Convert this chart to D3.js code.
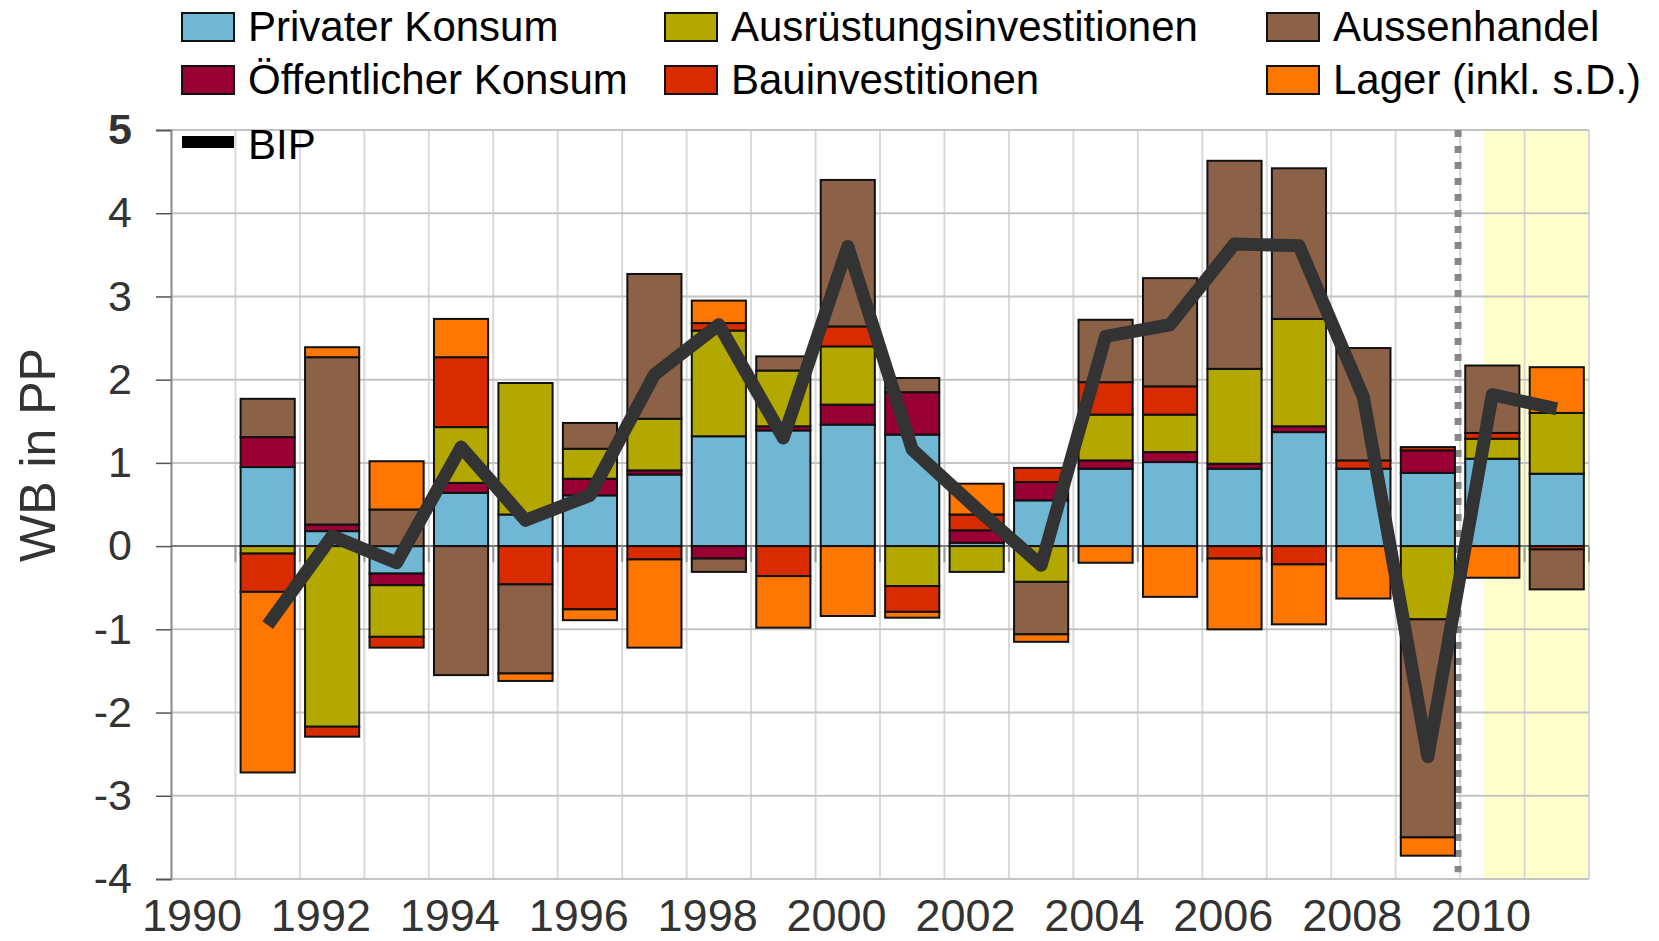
<!DOCTYPE html>
<meta charset="utf-8">
<style>
  body { margin: 0; background: #fff; }
  svg { font-family: "Liberation Sans", Arial, sans-serif; }
</style>
<svg width="1659" height="941"></svg>
<script src="https://d3js.org/d3.v7.min.js"></script>
<script>

// years 1991..2011, contributions to GDP growth (WB in PP)
var years = d3.range(1991, 2012);

var privaterKonsum   = [0.95, 0.18, -0.33, 0.64, 0.38, 0.61, 0.86, 1.32, 1.39, 1.46, 1.34, 0.04, 0.55, 0.93, 1.01, 0.93, 1.37, 0.93, 0.88, 1.05, 0.87];
var oeffKonsum       = [0.36, 0.08, -0.14, 0.12, 0, 0.20, 0.05, -0.15, 0.05, 0.24, 0.51, 0.15, 0.22, 0.10, 0.12, 0.06, 0.07, 0, 0.27, 0, 0];
var ausruestung      = [-0.09, -2.17, -0.62, 0.67, 1.58, 0.36, 0.62, 1.27, 0.67, 0.70, -0.48, -0.31, -0.43, 0.55, 0.45, 1.14, 1.29, 0, -0.88, 0.24, 0.73];
var bau              = [-0.46, -0.12, -0.13, 0.84, -0.46, -0.76, -0.16, 0.09, -0.36, 0.24, -0.31, 0.19, 0.17, 0.39, 0.34, -0.15, -0.22, 0.10, 0.04, 0.07, -0.04];
var aussenhandel     = [0.46, 2.01, 0.44, -1.55, -1.07, 0.31, 1.74, -0.16, 0.17, 1.76, 0.17, 0, -0.63, 0.75, 1.30, 2.50, 1.81, 1.35, -2.62, 0.81, -0.48];
var lager            = [-2.17, 0.12, 0.58, 0.46, -0.09, -0.13, -1.06, 0.27, -0.62, -0.84, -0.07, 0.37, -0.09, -0.20, -0.61, -0.85, -0.72, -0.63, -0.22, -0.38, 0.55];
var bip              = [-0.95, 0.12, -0.20, 1.19, 0.31, 0.61, 2.06, 2.66, 1.30, 3.60, 1.16, 0.45, -0.23, 2.52, 2.66, 3.63, 3.61, 1.79, -2.53, 1.82, 1.65];

var seriesNames  = ["Privater Konsum", "Öffentlicher Konsum", "Ausrüstungsinvestitionen", "Bauinvestitionen", "Aussenhandel", "Lager (inkl. s.D.)"];
var seriesValues = [privaterKonsum, oeffKonsum, ausruestung, bau, aussenhandel, lager];
var seriesColors = ["#70b7d4", "#990033", "#b3a800", "#d82c00", "#8b6248", "#ff7600"];

var yTicks = [-4, -3, -2, -1, 0, 1, 2, 3, 4, 5];
var xLabels = [1990, 1992, 1994, 1996, 1998, 2000, 2002, 2004, 2006, 2008, 2010];
var forecastStart = 2010.37;   // yellow area
var breakYear = 2010;          // dotted line

var svg = d3.select("svg");

var x = d3.scaleLinear().domain([1990, 2012]).range([171, 1589]);
var xb = d3.scaleBand().domain(d3.range(1990, 2012)).range([171, 1589])
    .paddingInner(0.16).paddingOuter(0.08);
var y = d3.scaleLinear().domain([-4, 5]).range([879, 130]);

// table for the stack
var table = years.map(function(yr, i) {
  var row = { year: yr };
  seriesNames.forEach(function(n, k) { row[n] = seriesValues[k][i]; });
  return row;
});

var stacked = d3.stack().keys(seriesNames).offset(d3.stackOffsetDiverging)(table);

// forecast shading
svg.append("rect")
  .attr("x", x(forecastStart)).attr("y", y(5))
  .attr("width", x(2012) - x(forecastStart)).attr("height", y(-4) - y(5))
  .attr("fill", "#ffffcc");

// grid
svg.append("g").selectAll("line")
  .data(d3.range(1991, 2013))
  .enter().append("line")
  .attr("x1", function(d) { return x(d); }).attr("x2", function(d) { return x(d); })
  .attr("y1", y(5)).attr("y2", y(-4))
  .attr("stroke", "#d9d9d9").attr("stroke-width", 2);

svg.append("g").selectAll("line")
  .data(yTicks.filter(function(d) { return d !== 0; }))
  .enter().append("line")
  .attr("x1", x(1990)).attr("x2", x(2012))
  .attr("y1", function(d) { return y(d); }).attr("y2", function(d) { return y(d); })
  .attr("stroke", "#c4c4c4").attr("stroke-width", 2);

// dotted break line
svg.append("line")
  .attr("x1", x(breakYear) - 2).attr("x2", x(breakYear) - 2)
  .attr("y1", y(5)).attr("y2", y(-3.92))
  .attr("stroke", "#888").attr("stroke-width", 7)
  .attr("stroke-dasharray", "7,9");

// y axis
var yAxis = svg.append("g").attr("transform", "translate(" + x(1990) + ",0)")
  .call(d3.axisLeft(y).tickValues(yTicks).tickSize(15).tickPadding(24)
    .tickFormat(function(d) { return String(d); }));
yAxis.select(".domain").attr("stroke", "#888").attr("stroke-width", 2);
yAxis.selectAll(".tick line").attr("stroke", "#555").attr("stroke-width", 1.5);
yAxis.selectAll(".tick text")
  .attr("font-size", 43).attr("fill", "#333")
  .attr("font-weight", function(d) { return d === 5 ? "bold" : "normal"; });

// zero line with small ticks
svg.append("line")
  .attr("x1", x(1990)).attr("x2", x(2012))
  .attr("y1", y(0)).attr("y2", y(0))
  .attr("stroke", "#555").attr("stroke-width", 1.5);
svg.append("g").selectAll("line")
  .data(d3.range(1991, 2013))
  .enter().append("line")
  .attr("x1", function(d) { return x(d); }).attr("x2", function(d) { return x(d); })
  .attr("y1", y(0)).attr("y2", y(0) + 16)
  .attr("stroke", "#999").attr("stroke-width", 2);

// bars
svg.append("g").selectAll("g")
  .data(stacked)
  .enter().append("g")
  .attr("fill", function(d, i) { return seriesColors[i]; })
  .selectAll("rect")
  .data(function(d) { return d.filter(function(s) { return s[1] - s[0] !== 0; }); })
  .enter().append("rect")
  .attr("x", function(d) { return xb(d.data.year); })
  .attr("width", xb.bandwidth())
  .attr("y", function(d) { return y(d[1]); })
  .attr("height", function(d) { return y(d[0]) - y(d[1]); })
  .attr("stroke", "#111").attr("stroke-width", 2);

// BIP line
var line = d3.line()
  .x(function(d, i) { return xb(years[i]) + xb.bandwidth() / 2; })
  .y(function(d) { return y(d); });

svg.append("path")
  .datum(bip)
  .attr("d", line)
  .attr("fill", "none")
  .attr("stroke", "#333")
  .attr("stroke-width", 13)
  .attr("stroke-linejoin", "round");

// x labels
svg.append("g").selectAll("text")
  .data(xLabels)
  .enter().append("text")
  .attr("x", function(d) { return x(d) + 21; })
  .attr("y", 931)
  .attr("text-anchor", "middle")
  .attr("font-size", 45)
  .attr("fill", "#333")
  .text(function(d) { return d; });

// y title
svg.append("text")
  .attr("transform", "translate(55,455) rotate(-90)")
  .attr("text-anchor", "middle")
  .attr("font-size", 50)
  .attr("fill", "#333")
  .text("WB in PP");

// legend
var legendPos = [[182, 13], [182, 66], [665, 13], [665, 66], [1267, 13], [1267, 66]];
var legend = svg.append("g").selectAll("g")
  .data(seriesNames)
  .enter().append("g")
  .attr("transform", function(d, i) { return "translate(" + legendPos[i][0] + "," + legendPos[i][1] + ")"; });

legend.append("rect")
  .attr("width", 52).attr("height", 28)
  .attr("fill", function(d, i) { return seriesColors[i]; })
  .attr("stroke", "#111").attr("stroke-width", 2);

legend.append("text")
  .attr("x", 66).attr("y", 28)
  .attr("font-size", 42)
  .attr("fill", "#000")
  .text(function(d) { return d; });

svg.append("line")
  .attr("x1", 182).attr("x2", 234).attr("y1", 142).attr("y2", 142)
  .attr("stroke", "#000").attr("stroke-width", 12);
svg.append("text")
  .attr("x", 248).attr("y", 159)
  .attr("font-size", 42)
  .attr("fill", "#000")
  .text("BIP");

</script>
